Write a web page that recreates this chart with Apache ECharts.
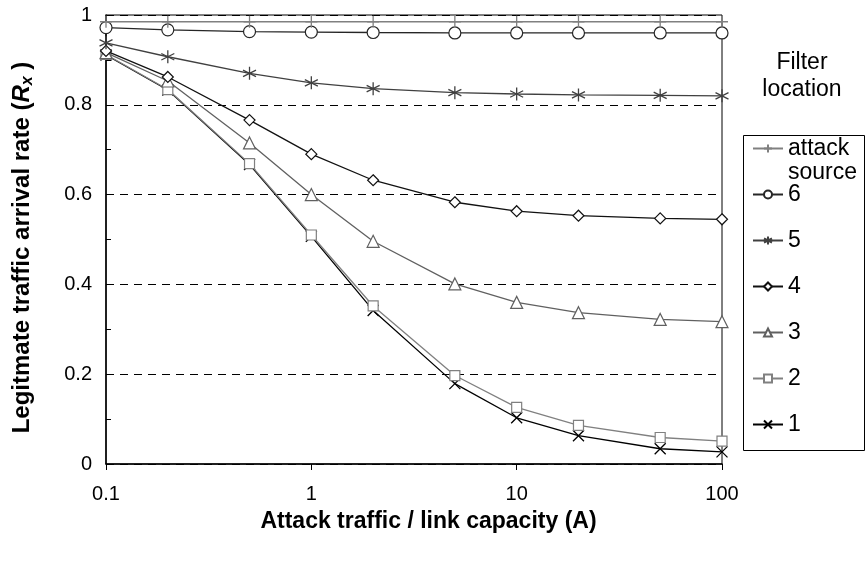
<!DOCTYPE html>
<html>
<head>
<meta charset="utf-8">
<script src="https://cdn.jsdelivr.net/npm/echarts@6/dist/echarts.min.js"></script>
<style>html,body{margin:0;padding:0;background:#fff}#c{width:866px;height:562px}</style>
</head>
<body>
<div id="c"></div>
<script>
var xValues = [0.1, 0.2, 0.5, 1, 2, 5, 10, 20, 50, 100];
var seriesNames = ['attack source', '6', '5', '4', '3', '2', '1'];
var attackSource = [0.985, 0.985, 0.985, 0.985, 0.985, 0.985, 0.985, 0.985, 0.985, 0.985];
var loc6 = [0.972, 0.967, 0.963, 0.962, 0.961, 0.960, 0.960, 0.960, 0.960, 0.960];
var loc5 = [0.938, 0.907, 0.870, 0.849, 0.836, 0.827, 0.824, 0.822, 0.821, 0.820];
var loc4 = [0.920, 0.862, 0.766, 0.690, 0.632, 0.583, 0.563, 0.553, 0.547, 0.545];
var loc3 = [0.916, 0.853, 0.715, 0.600, 0.496, 0.401, 0.360, 0.337, 0.322, 0.317];
var loc2 = [0.912, 0.834, 0.669, 0.510, 0.352, 0.197, 0.126, 0.086, 0.059, 0.051];
var loc1 = [0.911, 0.833, 0.667, 0.507, 0.342, 0.179, 0.103, 0.063, 0.034, 0.027];
var yTicks = [0, 0.2, 0.4, 0.6, 0.8, 1];
var xTickLabels = ['0.1', '1', '10', '100'];

var allValues = [attackSource, loc6, loc5, loc4, loc3, loc2, loc1];
var colors = ['#808080', '#262626', '#404040', '#111111', '#606060', '#808080', '#000000'];
var symbols = [
  'path://M0,-1L0,1M-1,0L1,0',
  'circle',
  'path://M0,-1L0,1M-0.866,-0.5L0.866,0.5M-0.866,0.5L0.866,-0.5',
  'diamond',
  'triangle',
  'rect',
  'path://M-1,-1L1,1M-1,1L1,-1'
];
var hollow = [false, true, false, true, true, true, false];
var sizes = [12, 12, 13, 11, 12, 10, 11];
var FONT = 'Liberation Sans, Arial, sans-serif';

function pairs(vals) {
  return xValues.map(function (x, i) { return [x, vals[i]]; });
}

var series = seriesNames.map(function (name, k) {
  return {
    name: name,
    type: 'line',
    data: pairs(allValues[k]),
    symbol: symbols[k],
    symbolSize: sizes[k],
    showAllSymbol: true,
    clip: false,
    lineStyle: { color: colors[k], width: 1.3 },
    itemStyle: { color: hollow[k] ? '#fff' : colors[k], borderColor: colors[k], borderWidth: hollow[k] ? 1.2 : 1.3 },
    emphasis: { disabled: true },
    z: 10 - k
  };
});

var chart = echarts.init(document.getElementById('c'), null, { renderer: 'canvas' });
chart.setOption({
  animation: false,
  backgroundColor: '#fff',
  textStyle: { fontFamily: FONT },
  grid: { left: 106, right: 144, top: 15, bottom: 98, show: true, borderColor: '#000', borderWidth: 1, backgroundColor: 'transparent' },
  legend: {
    orient: 'vertical',
    left: 752,
    top: 137,
    padding: 0,
    itemWidth: 30,
    itemHeight: 10,
    itemGap: 23,
    selectedMode: false,
    data: seriesNames,
    formatter: function (n) { return n === 'attack source' ? 'attack' : n; },
    textStyle: { fontSize: 23, lineHeight: 23, color: '#000', fontFamily: FONT }
  },
  xAxis: {
    type: 'log',
    logBase: 10,
    min: 0.1,
    max: 100,
    name: 'Attack traffic / link capacity (A)',
    nameLocation: 'middle',
    nameGap: 46,
    nameTextStyle: { fontSize: 23, fontWeight: 'bold', color: '#000', padding: [0, 0, 0, 29] },
    axisLine: { lineStyle: { color: '#000', width: 1.5 } },
    axisTick: { show: true, inside: false, length: 6, lineStyle: { color: '#000' } },
    axisLabel: {
      fontSize: 20, color: '#000', margin: 20,
      formatter: function (v) {
        var s = String(+v.toPrecision(3));
        return xTickLabels.indexOf(s) >= 0 ? s : '';
      }
    },
    splitLine: { show: false },
    minorTick: { show: false }
  },
  yAxis: {
    type: 'value',
    min: 0,
    max: 1,
    interval: 0.2,
    name: '{t|Legitmate traffic arrival rate (}{r|R}{s|x}{t| )}',
    nameLocation: 'middle',
    nameGap: 70,
    nameTextStyle: {
      padding: [0, 16, 0, 0],
      rich: {
        t: { fontSize: 24, fontWeight: 'bold', color: '#000', fontFamily: FONT },
        r: { fontSize: 24, fontWeight: 'bold', fontStyle: 'italic', color: '#000', fontFamily: FONT },
        s: { fontSize: 16, fontWeight: 'bold', fontStyle: 'italic', color: '#000', fontFamily: FONT, padding: [12, 0, 0, 0] }
      }
    },
    axisLine: { show: true, lineStyle: { color: '#000', width: 1.5 } },
    axisTick: { show: true, inside: true, length: 5, lineStyle: { color: '#000' } },
    minorTick: { show: true, splitNumber: 2, length: 5, lineStyle: { color: '#000' } },
    axisLabel: {
      fontSize: 20, color: '#000', margin: 14,
      formatter: function (v) {
        var s = String(+v.toFixed(1));
        return yTicks.indexOf(+s) >= 0 ? s : '';
      }
    },
    splitLine: { show: true, lineStyle: { color: '#000', width: 1, type: [8, 6] } }
  },
  graphic: [
    { type: 'text', x: 802, y: 49, style: { text: 'Filter\nlocation', fontSize: 23, lineHeight: 27, fill: '#000', align: 'center', verticalAlign: 'top', fontFamily: FONT } },
    { type: 'rect', left: 741, top: 133, shape: { width: 121, height: 315 }, style: { fill: 'none', stroke: '#000', lineWidth: 1 } },
    { type: 'text', x: 788, y: 161, style: { text: 'source', fontSize: 23, fill: '#000', verticalAlign: 'top', fontFamily: FONT } }
  ],
  series: series
});
</script>
</body>
</html>
